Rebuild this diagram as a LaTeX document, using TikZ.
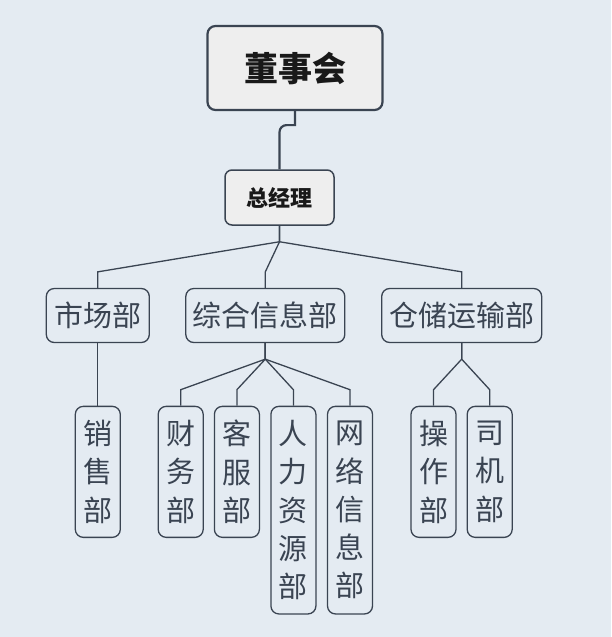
\documentclass[tikz,border=0pt]{standalone}
\usepackage{fontspec}
\setmainfont{Noto Sans CJK SC}
\usetikzlibrary{positioning}
\usetikzlibrary{arrows.meta}
\definecolor{bgcol}{HTML}{E4EBF2}
\definecolor{boxcol}{HTML}{EEEEEE}
\definecolor{linecol}{HTML}{3A4452}
\tikzset{topbox/.style={draw=linecol, fill=boxcol, rounded corners=8pt, line width=2.2pt,
		minimum width=175pt, minimum height=84pt, font=\fontsize{34}{40}\selectfont\bfseries, text=black!90},
	mgrbox/.style={draw=linecol, fill=boxcol, rounded corners=7pt, line width=1.5pt,
		minimum width=109pt, minimum height=55pt, font=\fontsize{22}{26}\selectfont\bfseries, text=black!90},
	deptbox/.style={draw=linecol, rounded corners=8pt, line width=1.3pt, inner sep=0pt,
		minimum height=54pt, font=\fontsize{29}{34}\selectfont, text=linecol},
	subbox/.style={draw=linecol, rounded corners=8pt, line width=1.3pt, inner sep=0pt, anchor=north,
		minimum width=45pt, font=\fontsize{29}{38.3}\selectfont, text=linecol, align=center},
	link/.style={draw=linecol, line width=1.3pt},
	branch/.style={to path={(\tikztostart) -- ++(0,16) -- ([yshift=16pt]\tikztotarget) -- (\tikztotarget)}}}

\begin{document}
\begin{tikzpicture}[x=1pt, y=-1pt]
		\fill[bgcol] (0,0) rectangle (611,637);
		\useasboundingbox (0,0) rectangle (611,637);
		
		\node[topbox] (dsh) at (295,68) {董事会};
		\node[mgrbox] (zjl) at (279.5,197.5) {总经理};
		\draw[linecol, line width=2.2pt] (dsh.south) -- ++(0,14) [rounded corners=7pt] -| (zjl.north);
		
		% departments
		\node[deptbox, minimum width=103pt] (scb) at (97.8,315.5) {市场部};
		\node[deptbox, minimum width=159pt] (zhxx) at (265.3,315.5) {综合信息部};
		\node[deptbox, minimum width=160pt] (ccys) at (461.7,315.5) {仓储运输部};
		\foreach \d in {scb,zhxx,ccys}
		  \draw[link] (zjl.south) to[branch] (\d.north);
		
		% sub departments
		\node[subbox, minimum height=131pt] (xsb) at (97.8,405.7) {销\\售\\部};
		\node[subbox, minimum height=131pt] (cwb) at (180.7,405.7) {财\\务\\部};
		\node[subbox, minimum height=131pt] (kfb) at (236.9,405.7) {客\\服\\部};
		\node[subbox, minimum height=207.6pt] (rlzy) at (293.4,405.7) {人\\力\\资\\源\\部};
		\node[subbox, minimum height=207.6pt] (wlxx) at (350,405.7) {网\\络\\信\\息\\部};
		\node[subbox, minimum height=131pt] (czb) at (433.5,405.7) {操\\作\\部};
		\node[subbox, minimum height=131pt] (sjb) at (489.7,405.7) {司\\机\\部};
		\draw[link] (scb.south) -- (xsb.north);
		\foreach \s in {cwb,kfb,rlzy,wlxx}
		  \draw[link] (zhxx.south) to[branch] (\s.north);
		\foreach \s in {czb,sjb}
		  \draw[link] (ccys.south) to[branch] (\s.north);
	\end{tikzpicture}
\end{document}
